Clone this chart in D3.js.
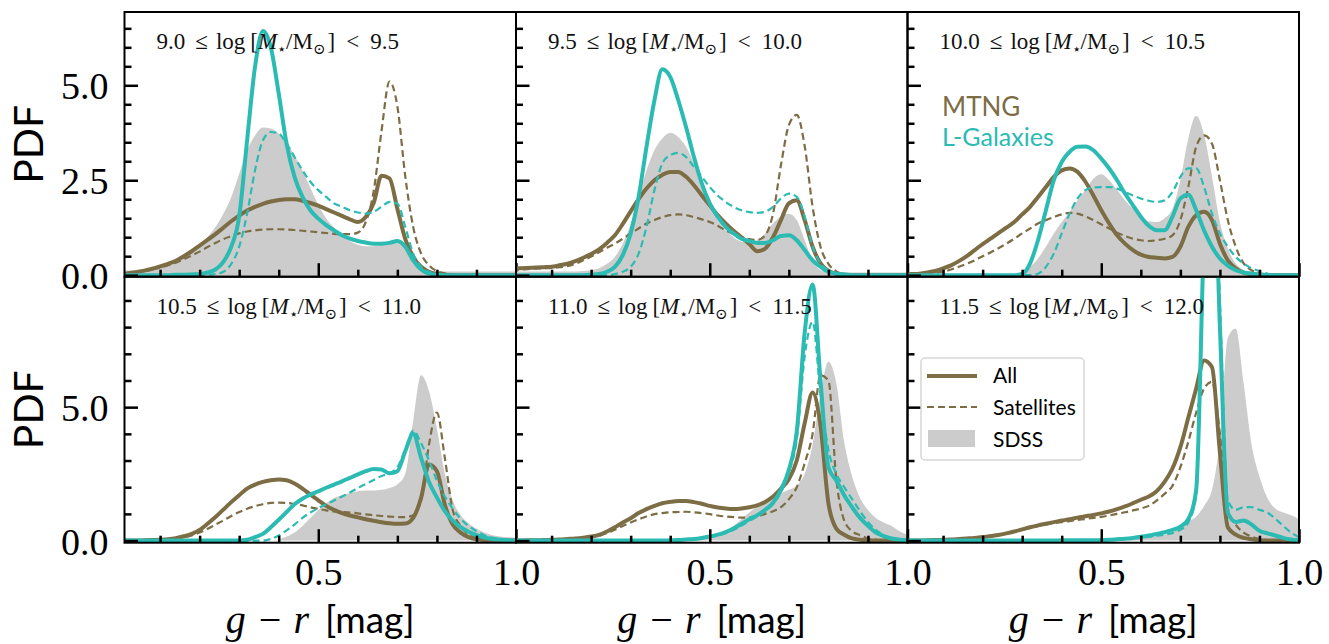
<!DOCTYPE html>
<html>
<head>
<meta charset="utf-8">
<script src="https://cdn.jsdelivr.net/npm/d3@7"></script>
<style>
  body { margin: 0; background: #fff; }
</style>
</head>
<body>
<script>
// g-r colour grid shared by every curve
var xs = [0,0.02,0.04,0.06,0.08,0.1,0.12,0.14,0.16,0.18,
          0.2,0.22,0.24,0.26,0.28,0.3,0.32,0.34,0.36,0.38,
          0.4,0.42,0.44,0.46,0.48,0.5,0.52,0.54,0.56,0.58,
          0.6,0.62,0.64,0.66,0.68,0.7,0.72,0.74,0.76,0.78,
          0.8,0.82,0.84,0.86,0.88,0.9,0.92,0.94,0.96,0.98,
          1.0];

var massLo = ["9.0", "9.5", "10.0", "10.5", "11.0", "11.5"];
var massHi = ["9.5", "10.0", "10.5", "11.0", "11.5", "12.0"];

var xMajor = [0.5, 1.0];
var xMinor = [0.1, 0.2, 0.3, 0.4, 0.6, 0.7, 0.8, 0.9];
var yMajorTop = [0, 2.5, 5.0];
var yMinorTop = [0.5, 1, 1.5, 2, 3, 3.5, 4, 4.5, 5.5, 6, 6.5];
var yMajorBot = [0, 5];
var yMinorBot = [1, 2, 3, 4, 6, 7, 8, 9];

// panel 1: 9.0 - 9.5
var sdss1 = [0.12,0.12,0.14,0.16,0.2,0.25,0.3,0.37,0.46,0.57,
             0.75,1.0,1.27,1.62,2.06,2.67,3.29,3.68,3.89,3.86,
             3.73,3.5,3.15,2.75,2.3,1.85,1.5,1.25,1.05,0.9,
             0.8,0.76,0.76,0.8,0.86,0.9,0.78,0.45,0.22,0.13,
             0.11,0.1,0.1,0.1,0.1,0.1,0.1,0.1,0.1,0.1,
             0.1];
var mtngAll1 = [0.03,0.05,0.08,0.12,0.17,0.23,0.3,0.38,0.5,0.63,
                0.78,0.93,1.08,1.25,1.42,1.57,1.7,1.8,1.88,1.94,
                1.98,2.0,2.0,1.96,1.9,1.83,1.74,1.65,1.56,1.47,
                1.4,1.53,1.9,2.62,2.55,1.75,0.95,0.48,0.22,0.09,
                0.03,0.01,0,0,0,0,0,0,0,0,
                0];
var mtngSat1 = [0.03,0.05,0.08,0.11,0.15,0.2,0.26,0.33,0.42,0.52,
                0.62,0.74,0.85,0.95,1.03,1.1,1.15,1.18,1.2,1.21,
                1.21,1.2,1.19,1.17,1.15,1.13,1.11,1.09,1.08,1.08,
                1.12,1.4,2.2,3.8,5.1,4.45,2.6,1.27,0.57,0.26,
                0.11,0.05,0.02,0,0,0,0,0,0,0,
                0];
var lgAll1 = [0,0,0,0,0,0,0,0.01,0.01,0.02,
              0.03,0.07,0.15,0.35,0.75,1.54,3.55,5.48,6.43,6.0,
              4.78,3.46,2.59,2.06,1.71,1.49,1.32,1.18,1.05,0.96,
              0.9,0.86,0.83,0.83,0.85,0.9,0.75,0.39,0.15,0.04,
              0.01,0,0,0,0,0,0,0,0,0,
              0];
var lgSat1 = [0,0,0,0,0,0,0,0,0,0,
              0,0.01,0.03,0.09,0.3,0.75,1.62,2.76,3.55,3.77,
              3.73,3.46,3.11,2.76,2.46,2.24,2.06,1.89,1.8,1.71,
              1.65,1.62,1.67,1.8,1.93,1.89,1.27,0.57,0.22,0.09,
              0.03,0.01,0,0,0,0,0,0,0,0,
              0];

// panel 2: 9.5 - 10.0
var sdss2 = [0.1,0.1,0.1,0.1,0.1,0.1,0.1,0.1,0.1,0.11,
             0.13,0.18,0.3,0.48,0.83,1.36,2.06,2.76,3.29,3.6,
             3.75,3.64,3.38,2.94,2.32,1.89,1.45,1.18,1.0,0.88,
             0.85,0.92,1.1,1.36,1.55,1.62,1.45,0.92,0.39,0.13,
             0.08,0.07,0.07,0.07,0.07,0.07,0.07,0.07,0.07,0.07,
             0.07];
var mtngAll2 = [0.17,0.18,0.19,0.2,0.21,0.22,0.26,0.3,0.37,0.46,
                0.56,0.68,0.85,1.05,1.35,1.68,2.0,2.28,2.5,2.64,
                2.72,2.72,2.59,2.37,2.1,1.84,1.58,1.36,1.17,1.0,
                0.82,0.63,0.7,1.0,1.45,1.89,1.97,1.45,0.75,0.31,
                0.11,0.04,0.01,0,0,0,0,0,0,0,
                0];
var mtngSat2 = [0.14,0.15,0.16,0.17,0.18,0.19,0.21,0.24,0.3,0.39,
                0.49,0.6,0.72,0.83,0.96,1.1,1.23,1.36,1.45,1.53,
                1.58,1.6,1.58,1.53,1.47,1.4,1.3,1.18,1.08,1.0,
                0.95,0.93,1.05,1.62,2.9,3.95,4.22,3.4,1.8,0.75,
                0.3,0.1,0.03,0,0,0,0,0,0,0,
                0];
var lgAll2 = [0,0,0,0,0,0,0,0,0,0,
              0.01,0.03,0.09,0.22,0.53,1.1,2.06,3.38,4.6,5.42,
              5.22,4.62,3.9,3.11,2.41,1.89,1.54,1.27,1.1,0.96,
              0.9,0.85,0.85,0.92,1.03,1.05,0.92,0.66,0.39,0.22,
              0.09,0.04,0.02,0,0,0,0,0,0,0,
              0];
var lgSat2 = [0,0,0,0,0,0,0,0,0,0,
              0,0,0,0.03,0.09,0.22,0.57,1.27,2.24,2.94,
              3.16,3.22,3.11,2.85,2.59,2.32,2.1,1.93,1.8,1.71,
              1.66,1.64,1.67,1.8,2.02,2.15,2.06,1.54,0.75,0.31,
              0.13,0.05,0.02,0,0,0,0,0,0,0,
              0];

// panel 3: 10.0 - 10.5
var sdss3 = [0,0,0,0,0,0,0,0,0,0,
             0,0,0,0.01,0.04,0.09,0.22,0.44,0.75,1.1,
             1.4,1.67,1.97,2.24,2.54,2.66,2.5,2.24,1.97,1.75,
             1.58,1.42,1.4,1.5,1.75,2.5,3.6,4.2,3.7,2.6,
             1.4,0.7,0.31,0.13,0.05,0.02,0.01,0.01,0.01,0.01,
             0.01];
var mtngAll3 = [0.02,0.03,0.04,0.07,0.11,0.18,0.26,0.37,0.5,0.66,
                0.82,0.96,1.11,1.25,1.4,1.6,1.8,2.06,2.32,2.59,
                2.76,2.81,2.72,2.46,2.1,1.71,1.36,1.05,0.83,0.66,
                0.54,0.48,0.46,0.44,0.48,0.75,1.27,1.58,1.67,1.45,
                0.83,0.39,0.18,0.07,0.03,0.01,0,0,0,0,
                0];
var mtngSat3 = [0.01,0.02,0.03,0.05,0.07,0.09,0.15,0.22,0.3,0.39,
                0.5,0.6,0.71,0.83,0.96,1.1,1.23,1.36,1.45,1.53,
                1.6,1.64,1.62,1.55,1.45,1.34,1.23,1.12,1.03,0.96,
                0.92,0.9,0.92,0.96,1.05,1.45,2.32,3.38,3.68,3.46,
                2.5,1.45,0.75,0.31,0.13,0.05,0.02,0,0,0,
                0];
var lgAll3 = [0,0,0,0,0,0,0,0,0,0,
              0,0,0,0,0,0.03,0.31,0.92,1.71,2.5,
              2.98,3.25,3.38,3.39,3.29,3.07,2.81,2.5,2.15,1.84,
              1.54,1.3,1.18,1.18,1.54,2.02,2.12,1.71,1.18,0.75,
              0.44,0.25,0.13,0.07,0.04,0.02,0,0,0,0,
              0];
var lgSat3 = [0,0,0,0,0,0,0,0,0,0,
              0,0,0,0,0,0,0,0.04,0.22,0.57,
              1.1,1.62,2.02,2.24,2.31,2.32,2.32,2.28,2.19,2.1,
              2.02,1.96,1.93,1.97,2.19,2.59,2.81,2.81,2.32,1.62,
              1.1,0.75,0.48,0.31,0.18,0.11,0.04,0,0,0,
              0];

// panel 4: 10.5 - 11.0
var sdss4 = [0,0,0,0,0,0,0,0,0,0,
             0,0,0,0,0,0,0,0,0,0,
             0.05,0.15,0.3,0.55,0.85,1.15,1.4,1.6,1.7,1.78,
             1.85,1.88,1.88,1.9,1.97,2.1,2.5,4.5,6.2,5.6,
             4.2,2.5,1.5,0.95,0.65,0.45,0.3,0.2,0.15,0.12,
             0.1];
var mtngAll4 = [0,0,0,0.01,0.02,0.03,0.05,0.09,0.16,0.25,
                0.4,0.63,0.88,1.16,1.44,1.7,1.95,2.1,2.2,2.26,
                2.29,2.26,2.14,1.95,1.72,1.51,1.3,1.15,1.03,0.94,
                0.87,0.8,0.74,0.69,0.65,0.63,0.64,0.85,1.6,2.85,
                2.6,1.35,0.6,0.3,0.13,0.05,0.02,0,0,0,
                0];
var mtngSat4 = [0,0,0,0,0.01,0.02,0.04,0.07,0.12,0.19,
                0.3,0.44,0.6,0.75,0.92,1.07,1.19,1.29,1.36,1.41,
                1.42,1.41,1.37,1.32,1.25,1.19,1.13,1.09,1.07,1.05,
                1.02,0.98,0.95,0.92,0.9,0.88,0.88,0.95,1.5,3.6,
                4.8,3.1,1.15,0.55,0.23,0.1,0.04,0,0,0,
                0];
var lgAll4 = [0,0,0,0,0,0,0,0,0,0,
              0,0,0,0,0,0,0.03,0.13,0.25,0.5,
              0.78,1.07,1.36,1.57,1.72,1.85,1.98,2.1,2.22,2.35,
              2.48,2.6,2.68,2.66,2.52,2.6,3.35,4.0,3.1,2.2,
              1.62,1.1,0.75,0.5,0.33,0.2,0.11,0.06,0.03,0.01,
              0];
var lgSat4 = [0,0,0,0,0,0,0,0,0,0,
              0,0,0,0,0,0,0,0,0,0.06,
              0.19,0.38,0.6,0.85,1.05,1.22,1.36,1.5,1.65,1.8,
              1.97,2.12,2.27,2.42,2.52,2.75,3.4,4.12,3.65,3.0,
              2.25,1.65,1.2,0.82,0.55,0.35,0.2,0.11,0.05,0.02,
              0];

// panel 5: 11.0 - 11.5
var sdss5 = [0,0,0,0,0,0,0,0,0,0,
             0,0,0,0,0,0,0,0,0,0,
             0,0,0.02,0.04,0.07,0.1,0.2,0.35,0.55,0.8,
             1.05,1.3,1.5,1.65,1.78,1.9,2.05,2.5,3.6,5.5,
             6.7,5.9,3.7,2.4,1.6,1.15,0.85,0.68,0.55,0.35,
             0.22];
var mtngAll5 = [0,0,0.01,0.01,0.02,0.03,0.04,0.06,0.08,0.11,
                0.15,0.21,0.34,0.5,0.68,0.84,1.03,1.18,1.3,1.4,
                1.45,1.48,1.48,1.44,1.38,1.3,1.24,1.2,1.18,1.2,
                1.25,1.32,1.45,1.65,1.95,2.3,3.0,4.4,5.55,4.3,
                1.4,0.45,0.22,0.08,0.03,0.01,0,0,0,0,
                0];
var mtngSat5 = [0,0,0,0.01,0.01,0.02,0.03,0.05,0.07,0.09,
                0.12,0.18,0.28,0.41,0.55,0.68,0.8,0.9,0.99,1.03,
                1.06,1.07,1.08,1.06,1.03,0.99,0.94,0.9,0.88,0.86,
                0.86,0.9,1.0,1.1,1.25,1.55,2.0,2.9,4.0,6.2,
                6.0,2.3,0.75,0.35,0.2,0.08,0.03,0.01,0,0,
                0];
var lgAll5 = [0,0,0,0,0,0,0,0,0,0,
              0,0,0,0,0,0,0,0,0,0,
              0.01,0.02,0.04,0.06,0.1,0.15,0.22,0.32,0.45,0.62,
              0.8,0.95,1.15,1.42,1.9,2.65,4.1,7.8,9.6,6.0,
              2.75,2.25,1.7,1.25,0.85,0.55,0.3,0.17,0.08,0.03,
              0];
var lgSat5 = [0,0,0,0,0,0,0,0,0,0,
              0,0,0,0,0,0,0,0,0,0,
              0.01,0.02,0.03,0.05,0.08,0.12,0.19,0.28,0.4,0.56,
              0.74,0.9,1.1,1.37,1.82,2.55,3.8,6.9,8.2,5.5,
              3.4,2.5,2.0,1.55,1.1,0.7,0.4,0.2,0.09,0.04,
              0.01];

// panel 6: 11.5 - 12.0
var sdss6 = [0,0,0,0,0,0,0,0,0,0,
             0,0,0,0,0,0,0,0,0,0,
             0,0,0,0,0,0,0,0,0,0.04,
             0.08,0.12,0.17,0.22,0.3,0.5,0.7,0.9,1.3,1.9,
             3.8,7.6,7.95,5.9,3.6,2.4,1.6,1.2,1.05,0.95,
             0.8];
var mtngAll6 = [0,0,0,0.01,0.02,0.03,0.04,0.06,0.08,0.1,
                0.13,0.17,0.21,0.27,0.34,0.42,0.5,0.57,0.63,0.69,
                0.75,0.8,0.86,0.91,0.96,1.02,1.09,1.18,1.28,1.4,
                1.53,1.65,1.85,2.2,2.7,3.5,4.6,5.7,6.75,6.5,
                3.3,0.5,0.22,0.1,0.05,0.02,0,0,0,0,
                0];
var mtngSat6 = [0,0,0,0.01,0.02,0.03,0.04,0.06,0.08,0.1,
                0.13,0.17,0.21,0.27,0.33,0.4,0.47,0.54,0.6,0.65,
                0.69,0.73,0.77,0.81,0.85,0.89,0.94,1.0,1.06,1.13,
                1.2,1.3,1.5,1.75,2.05,2.75,3.7,4.8,5.7,5.95,
                4.0,1.2,0.6,0.3,0.15,0.06,0.02,0,0,0,
                0];
var lgAll6 = [0,0,0,0,0,0,0,0,0,0,
              0,0,0,0,0,0,0,0,0,0,
              0.01,0.01,0.01,0.01,0.01,0.02,0.03,0.05,0.07,0.1,
              0.14,0.19,0.25,0.31,0.4,0.52,0.8,1.9,11.5,16.0,
              8.0,1.05,0.7,0.75,0.6,0.37,0.27,0.19,0.1,0.04,
              0.01];
var lgSat6 = [0,0,0,0,0,0,0,0,0,0,
              0,0,0,0,0,0,0,0,0,0,
              0.01,0.01,0.01,0.01,0.01,0.01,0.02,0.04,0.06,0.08,
              0.1,0.14,0.18,0.22,0.28,0.4,0.68,1.7,11.0,16.0,
              9.0,1.5,1.15,1.25,1.25,1.15,1.05,0.82,0.55,0.3,
              0.12];

var sdss = [sdss1, sdss2, sdss3, sdss4, sdss5, sdss6];
var mtngAll = [mtngAll1, mtngAll2, mtngAll3, mtngAll4, mtngAll5, mtngAll6];
var mtngSat = [mtngSat1, mtngSat2, mtngSat3, mtngSat4, mtngSat5, mtngSat6];
var lgAll = [lgAll1, lgAll2, lgAll3, lgAll4, lgAll5, lgAll6];
var lgSat = [lgSat1, lgSat2, lgSat3, lgSat4, lgSat5, lgSat6];

var brown = "#7d6d45";
var teal = "#2bbbb3";
var grey = "#cccccc";
var serif = "'Liberation Serif', 'DejaVu Serif', serif";
var sans = "Lato, 'Open Sans', sans-serif";

var width = 1329, height = 644;
var colLeft = [124.5, 516, 907.5];
var panelW = 391.5;
var rowTop = [12, 276.7];
var rowBot = [276.7, 542.7];
var yDomain = [[-0.04, 6.93], [-0.08, 9.89]];

var svg = d3.select("body").append("svg")
    .attr("width", width)
    .attr("height", height);

var defs = svg.append("defs");

for (var i = 0; i < 6; i++) {
  var row = Math.floor(i / 3), col = i % 3;
  var x0 = colLeft[col], y0 = rowTop[row], y1 = rowBot[row];

  var x = d3.scaleLinear().domain([0.01, 1.0]).range([x0, x0 + panelW]);
  var y = d3.scaleLinear().domain(yDomain[row]).range([y1, y0]);

  defs.append("clipPath").attr("id", "clip" + i)
    .append("rect")
    .attr("x", x0).attr("y", y0)
    .attr("width", panelW).attr("height", y1 - y0);

  var plot = svg.append("g").attr("clip-path", "url(#clip" + i + ")");

  var area = d3.area()
      .x(function (d, k) { return x(xs[k]); })
      .y0(y(0))
      .y1(function (d) { return y(d); })
      .curve(d3.curveMonotoneX);

  var line = d3.line()
      .x(function (d, k) { return x(xs[k]); })
      .y(function (d) { return y(d); })
      .curve(d3.curveMonotoneX);

  plot.append("path").datum(sdss[i])
      .attr("d", area)
      .attr("fill", grey);

  // bin label, spaced like the TeX original
  var lab = svg.append("text")
      .attr("x", x0 + 32)
      .attr("y", y0 + 37)
      .attr("font-family", serif)
      .attr("font-size", 23)
      .attr("fill", "#111");
  lab.append("tspan").text(massLo[i]);
  lab.append("tspan").attr("dx", 10).text("\u2264");
  lab.append("tspan").attr("dx", 8).text("log");
  lab.append("tspan").attr("dx", 5).text("[");
  lab.append("tspan").attr("font-style", "italic").text("M");
  lab.append("tspan").attr("font-size", 15).attr("dy", 5).text("\u22c6");
  lab.append("tspan").attr("dy", -5).text("/M");
  lab.append("tspan").attr("font-size", 15).attr("dy", 5).text("\u2299");
  lab.append("tspan").attr("dy", -5).attr("dx", 2).text("]");
  lab.append("tspan").attr("dx", 11).text("<");
  lab.append("tspan").attr("dx", 11).text(massHi[i]);

  var series = [
    {v: mtngAll[i], c: brown, w: 4, dash: null},
    {v: mtngSat[i], c: brown, w: 2.2, dash: "7,4"},
    {v: lgAll[i], c: teal, w: 4, dash: null},
    {v: lgSat[i], c: teal, w: 2.2, dash: "7,4"}
  ];
  series.forEach(function (s) {
    plot.append("path").datum(s.v)
        .attr("d", line)
        .attr("fill", "none")
        .attr("stroke", s.c)
        .attr("stroke-width", s.w)
        .attr("stroke-dasharray", s.dash)
        .attr("stroke-linejoin", "round");
  });

  // x ticks (inward)
  var gx = svg.append("g").attr("transform", "translate(0," + y1 + ")");
  gx.call(d3.axisBottom(x).tickValues(xMinor).tickSize(-7).tickFormat(""));
  var gxm = svg.append("g").attr("transform", "translate(0," + y1 + ")");
  gxm.call(d3.axisBottom(x).tickValues(xMajor).tickSize(-13.5)
      .tickFormat(row === 1 ? d3.format(".1f") : ""));
  [gx, gxm].forEach(function (g) {
    g.select(".domain").remove();
    g.selectAll("line").attr("stroke-width", 2.5);
  });
  gxm.attr("font-family", serif).attr("font-size", 38);
  gxm.selectAll("text").attr("y", 42).attr("dy", null).attr("fill", "#000");

  // y ticks (inward)
  var gy = svg.append("g").attr("transform", "translate(" + x0 + ",0)");
  gy.call(d3.axisLeft(y).tickValues(row === 0 ? yMinorTop : yMinorBot)
      .tickSize(-7).tickFormat(""));
  var gym = svg.append("g").attr("transform", "translate(" + x0 + ",0)");
  gym.call(d3.axisLeft(y).tickValues(row === 0 ? yMajorTop : yMajorBot)
      .tickSize(-13.5).tickPadding(16)
      .tickFormat(col === 0 ? d3.format(".1f") : ""));
  [gy, gym].forEach(function (g) {
    g.select(".domain").remove();
    g.selectAll("line").attr("stroke-width", 2.5);
  });
  gym.attr("font-family", serif).attr("font-size", 38);
  gym.selectAll("text").attr("dy", "0.36em").attr("fill", "#000");

  svg.append("rect")
      .attr("x", x0).attr("y", y0)
      .attr("width", panelW).attr("height", y1 - y0)
      .attr("fill", "none")
      .attr("stroke", "#000")
      .attr("stroke-width", 2);

  if (row === 1) {
    var xl = svg.append("text")
        .attr("x", x0 + panelW / 2)
        .attr("y", 633)
        .attr("text-anchor", "middle")
        .attr("font-size", 40);
    xl.append("tspan").attr("font-family", serif).attr("font-style", "italic").text("g");
    xl.append("tspan").attr("font-family", serif).attr("dx", 13).text("\u2212");
    xl.append("tspan").attr("font-family", serif).attr("font-style", "italic").attr("dx", 12).text("r");
    xl.append("tspan").attr("font-family", sans).attr("font-size", 37).attr("dx", 16).text("[mag]");
  }
}

// y labels
[0, 1].forEach(function (r) {
  svg.append("text")
      .attr("transform", "translate(43," + ((rowTop[r] + rowBot[r]) / 2) + ") rotate(-90)")
      .attr("text-anchor", "middle")
      .attr("font-family", sans)
      .attr("font-size", 41)
      .text("PDF");
});

// model names in panel 3
svg.append("text").attr("x", 942).attr("y", 116)
    .attr("font-family", sans).attr("font-size", 26)
    .attr("fill", brown).text("MTNG");
svg.append("text").attr("x", 942).attr("y", 146)
    .attr("font-family", sans).attr("font-size", 25)
    .attr("fill", teal).text("L-Galaxies");

// legend in panel 6
var leg = svg.append("g");
leg.append("rect")
    .attr("x", 921).attr("y", 358)
    .attr("width", 163).attr("height", 102)
    .attr("rx", 4)
    .attr("fill", "#fff").attr("fill-opacity", 0.85)
    .attr("stroke", "#d6d6d6").attr("stroke-width", 1.5);
leg.append("line").attr("x1", 927).attr("x2", 977).attr("y1", 376).attr("y2", 376)
    .attr("stroke", brown).attr("stroke-width", 4);
leg.append("line").attr("x1", 927).attr("x2", 977).attr("y1", 407).attr("y2", 407)
    .attr("stroke", brown).attr("stroke-width", 2.2).attr("stroke-dasharray", "7,4");
leg.append("rect").attr("x", 928).attr("y", 430).attr("width", 47).attr("height", 17)
    .attr("fill", grey);
var legNames = ["All", "Satellites", "SDSS"];
legNames.forEach(function (t, k) {
  leg.append("text").attr("x", 993).attr("y", 383 + k * 32)
      .attr("font-family", sans).attr("font-size", 21)
      .text(t);
});
</script>
</body>
</html>
